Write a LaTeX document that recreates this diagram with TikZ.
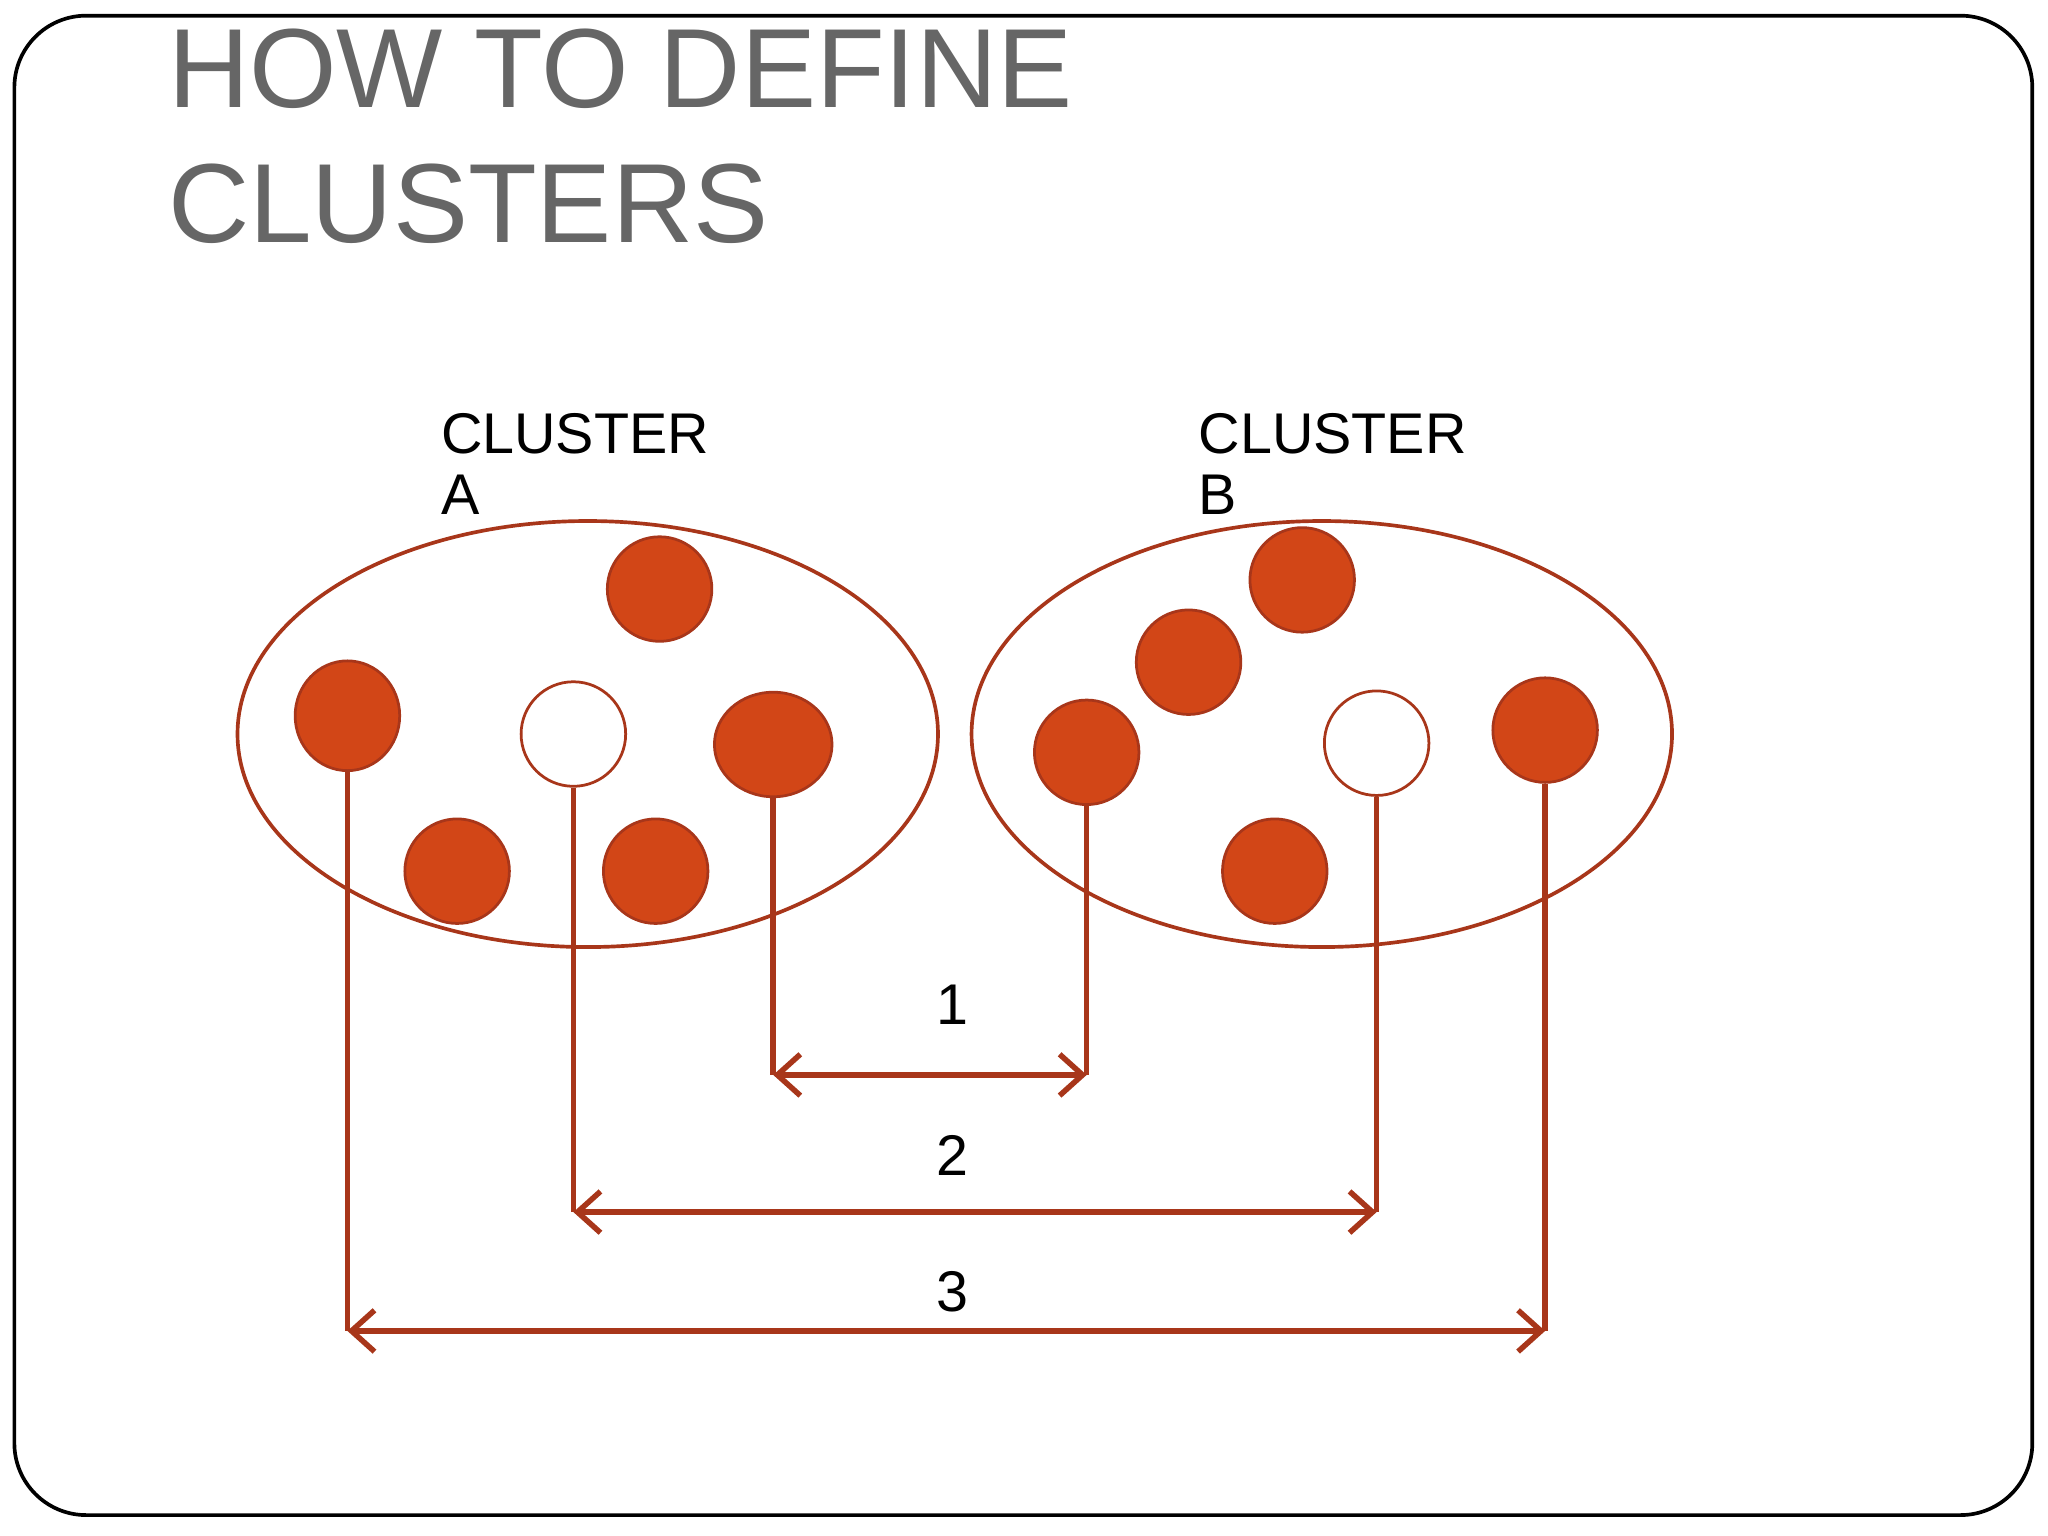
\documentclass[tikz,border=0pt]{standalone}
\usepackage{fontspec}
\setmainfont{Liberation Sans}
\usetikzlibrary{arrows.meta,shapes.geometric}
\definecolor{rust}{HTML}{A8361A}
\definecolor{dotfill}{HTML}{D24617}
\definecolor{titlegray}{HTML}{666666}
\tikzset{
  dot/.style={circle, draw=rust, fill=dotfill, line width=0.6pt, minimum size=0.8cm, inner sep=0pt},
  hollow/.style={dot, fill=white},
  link/.style={draw=rust, line width=1.2pt},
  gap/.style={link, {Straight Barb[length=5pt,width=9pt]}-{Straight Barb[length=5pt,width=9pt]}}
}
\begin{document}
\begin{tikzpicture}[x=0.01cm,y=-0.01cm]
\useasboundingbox (0,0) rectangle (1568,1176);
% Frame
\draw[line width=0.8pt, rounded corners=0.55cm] (11,12) rectangle (1556,1160);

% Title
\node[anchor=base west, inner sep=0pt, text=titlegray, font=\fontsize{24.5}{29}\selectfont] (t1) at (128,82) {HOW TO DEFINE};
\node[anchor=base west, inner sep=0pt, text=titlegray, font=\fontsize{24.5}{29}\selectfont] (t2) at (128,186) {CLUSTERS};

% Cluster labels
\node[anchor=base west, inner sep=0pt, font=\fontsize{12.5}{15}\selectfont] (la1) at (337,347) {CLUSTER};
\node[anchor=base west, inner sep=0pt, font=\fontsize{12.5}{15}\selectfont] (la2) at (337,394) {A};
\node[anchor=base west, inner sep=0pt, font=\fontsize{12.5}{15}\selectfont] (lb1) at (917,347) {CLUSTER};
\node[anchor=base west, inner sep=0pt, font=\fontsize{12.5}{15}\selectfont] (lb2) at (917,394) {B};

% Clusters
\draw[rust, line width=0.8pt] (450,562) ellipse [x radius=2.68cm, y radius=1.63cm];
\draw[rust, line width=0.8pt] (1012,562) ellipse [x radius=2.68cm, y radius=1.63cm];

% Points of A
\node[dot, ellipse, minimum width=0.8cm, minimum height=0.84cm] (a1) at (266,548) {};
\node[dot] (a2) at (505,451) {};
\node[hollow] (a3) at (439,562) {};
\node[dot, ellipse, minimum width=0.9cm, minimum height=0.8cm] (a4) at (592,570) {};
\node[dot] (a5) at (350,667) {};
\node[dot] (a6) at (502,667) {};

% Points of B
\node[dot] (b1) at (997,444) {};
\node[dot] (b2) at (910,507) {};
\node[dot] (b3) at (832,576) {};
\node[hollow] (b4) at (1054,569) {};
\node[dot] (b5) at (1183,559) {};
\node[dot] (b6) at (976,667) {};

% Distances
\coordinate (e1a) at (592,823);
\coordinate (e1b) at (832,823);
\coordinate (e2a) at (439,928);
\coordinate (e2b) at (1054,928);
\coordinate (e3a) at (266,1019);
\coordinate (e3b) at (1183,1019);

\draw[link] (a4.south) -- (e1a);
\draw[link] (b3.south) -- (e1b);
\draw[gap] (e1a) -- (e1b);
\draw[link] (a3.south) -- (e2a);
\draw[link] (b4.south) -- (e2b);
\draw[gap] (e2a) -- (e2b);
\draw[link] (a1.south) -- (e3a);
\draw[link] (b5.south) -- (e3b);
\draw[gap] (e3a) -- (e3b);

\node[font=\fontsize{12.5}{15}\selectfont] (n1) at (729,769) {1};
\node[font=\fontsize{12.5}{15}\selectfont] (n2) at (729,885) {2};
\node[font=\fontsize{12.5}{15}\selectfont] (n3) at (729,989) {3};
\end{tikzpicture}
\end{document}
